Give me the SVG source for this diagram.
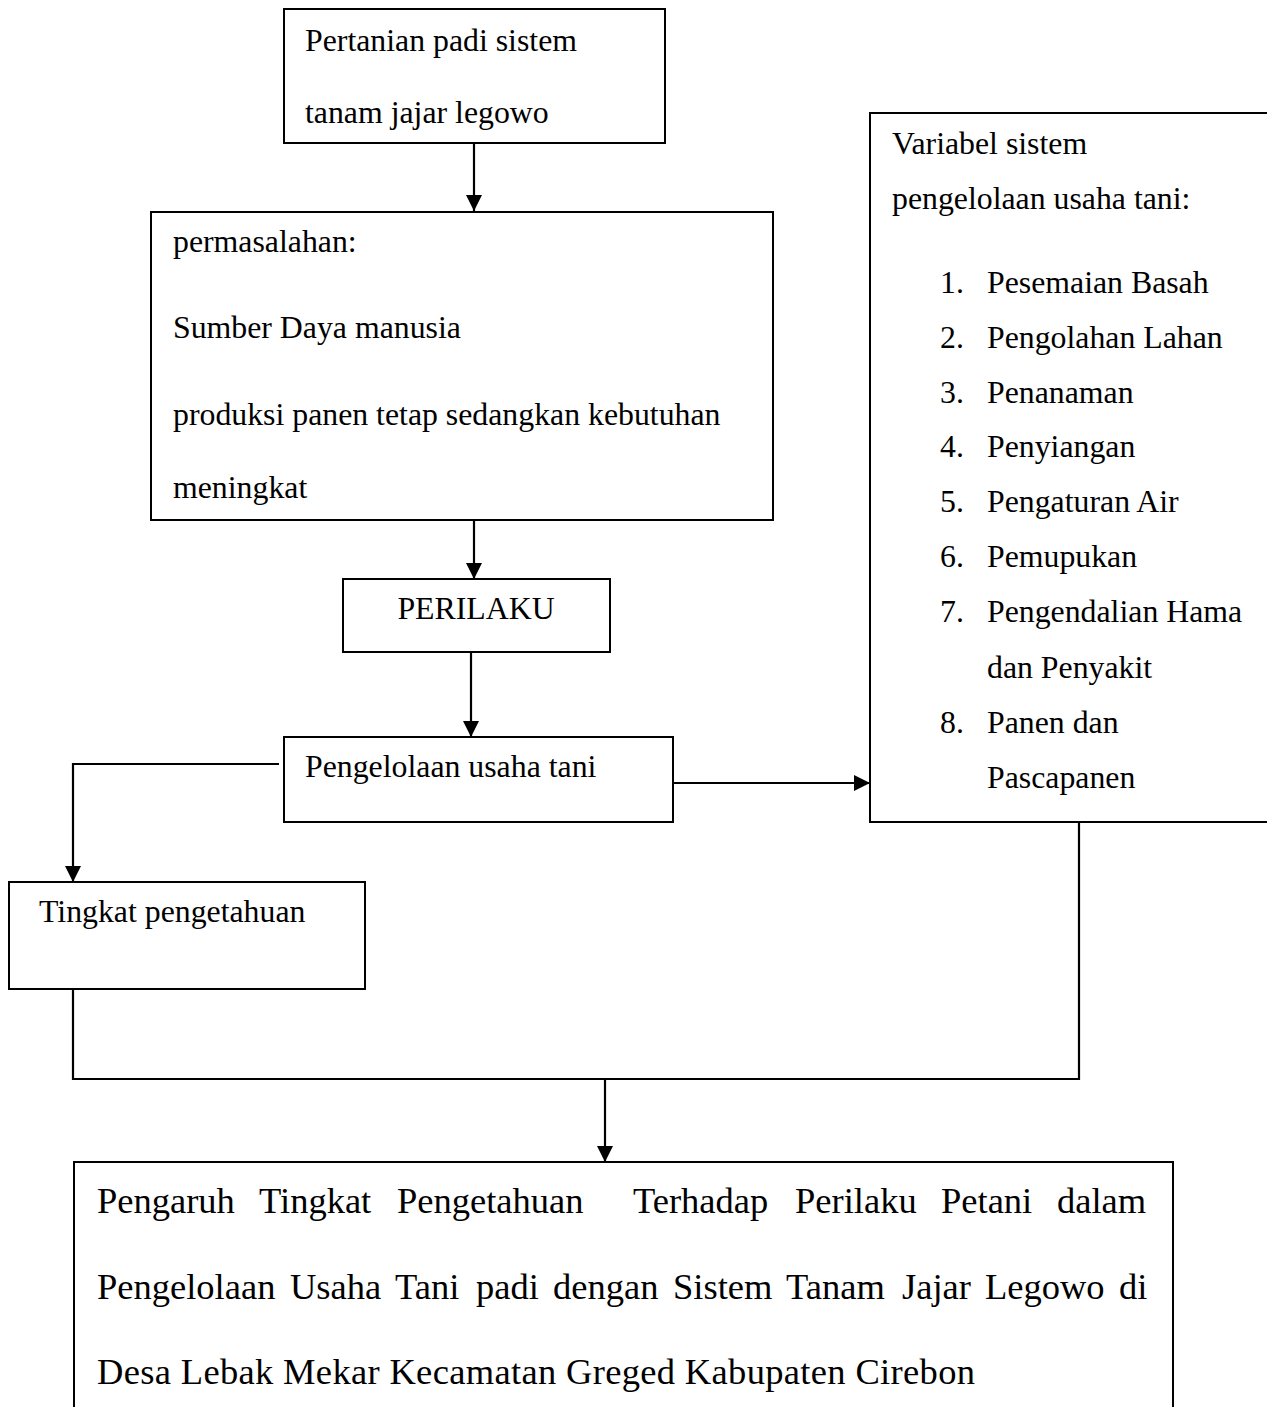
<svg xmlns="http://www.w3.org/2000/svg" width="1267" height="1407" viewBox="0 0 1267 1407">
<style>
.box{fill:#fff;stroke:#000;stroke-width:2}
.t{font-family:"Liberation Serif","Times New Roman",serif;font-size:31.8px;fill:#000}
.tb{font-family:"Liberation Serif","Times New Roman",serif;font-size:36.5px;fill:#000}
.ln{fill:none;stroke:#000;stroke-width:2.2}
</style>
<defs>
<marker id="ah" markerUnits="userSpaceOnUse" markerWidth="16" markerHeight="16" refX="16" refY="8" orient="auto">
<path d="M0,0 L16,8 L0,16 z" fill="#000"/>
</marker>
</defs>
<rect width="1267" height="1407" fill="#fff"/>

<g id="connectors">
<line class="ln" x1="474" y1="143" x2="474" y2="211" marker-end="url(#ah)"/>
<line class="ln" x1="474" y1="520" x2="474" y2="579" marker-end="url(#ah)"/>
<line class="ln" x1="471" y1="652" x2="471" y2="737" marker-end="url(#ah)"/>
<line class="ln" x1="673" y1="783" x2="870" y2="783" marker-end="url(#ah)"/>
<polyline class="ln" points="279,764 73,764 73,882" marker-end="url(#ah)"/>
<polyline class="ln" points="73,989 73,1079 1079,1079 1079,822"/>
<line class="ln" x1="605" y1="1079" x2="605" y2="1162" marker-end="url(#ah)"/>
</g>

<g id="node-pertanian">
<rect class="box" x="284" y="9" width="381" height="134"/>
<text class="t" x="305" y="51">Pertanian padi sistem</text>
<text class="t" x="305" y="123">tanam jajar legowo</text>
</g>

<g id="node-permasalahan">
<rect class="box" x="151" y="212" width="622" height="308"/>
<text class="t" x="173" y="252">permasalahan:</text>
<text class="t" x="173" y="338">Sumber Daya manusia</text>
<text class="t" x="173" y="425">produksi panen tetap sedangkan kebutuhan</text>
<text class="t" x="173" y="498">meningkat</text>
</g>

<g id="node-perilaku">
<rect class="box" x="343" y="579" width="267" height="73"/>
<text class="t" x="476" y="619" text-anchor="middle">PERILAKU</text>
</g>

<g id="node-pengelolaan">
<rect class="box" x="284" y="737" width="389" height="85"/>
<text class="t" x="305" y="777">Pengelolaan usaha tani</text>
</g>

<g id="node-tingkat">
<rect class="box" x="9" y="882" width="356" height="107"/>
<text class="t" x="39" y="922">Tingkat pengetahuan</text>
</g>

<g id="node-variabel">
<rect class="box" x="870" y="113" width="420" height="709"/>
<text class="t" x="892" y="154">Variabel sistem</text>
<text class="t" x="892" y="209">pengelolaan usaha tani:</text>
<text class="t" x="940" y="293">1.</text><text class="t" x="987" y="293">Pesemaian Basah</text>
<text class="t" x="940" y="348">2.</text><text class="t" x="987" y="348">Pengolahan Lahan</text>
<text class="t" x="940" y="403">3.</text><text class="t" x="987" y="403">Penanaman</text>
<text class="t" x="940" y="457">4.</text><text class="t" x="987" y="457">Penyiangan</text>
<text class="t" x="940" y="512">5.</text><text class="t" x="987" y="512">Pengaturan Air</text>
<text class="t" x="940" y="567">6.</text><text class="t" x="987" y="567">Pemupukan</text>
<text class="t" x="940" y="622">7.</text><text class="t" x="987" y="622">Pengendalian Hama</text>
<text class="t" x="987" y="678">dan Penyakit</text>
<text class="t" x="940" y="733">8.</text><text class="t" x="987" y="733">Panen dan</text>
<text class="t" x="987" y="788">Pascapanen</text>
</g>

<g id="node-pengaruh">
<rect class="box" x="74" y="1162" width="1099" height="300"/>
<text class="tb" y="1213"><tspan x="97">Pengaruh</tspan><tspan x="259">Tingkat</tspan><tspan x="397">Pengetahuan</tspan><tspan x="633">Terhadap</tspan><tspan x="795">Perilaku</tspan><tspan x="941">Petani</tspan><tspan x="1057">dalam</tspan></text>
<text class="tb" y="1299"><tspan x="97">Pengelolaan</tspan><tspan x="290">Usaha</tspan><tspan x="395">Tani</tspan><tspan x="476">padi</tspan><tspan x="553">dengan</tspan><tspan x="673">Sistem</tspan><tspan x="786">Tanam</tspan><tspan x="902">Jajar</tspan><tspan x="985">Legowo</tspan><tspan x="1119">di</tspan></text>
<text class="tb" x="97" y="1384" textLength="878" lengthAdjust="spacing">Desa Lebak Mekar Kecamatan Greged Kabupaten Cirebon</text>
</g>
</svg>
